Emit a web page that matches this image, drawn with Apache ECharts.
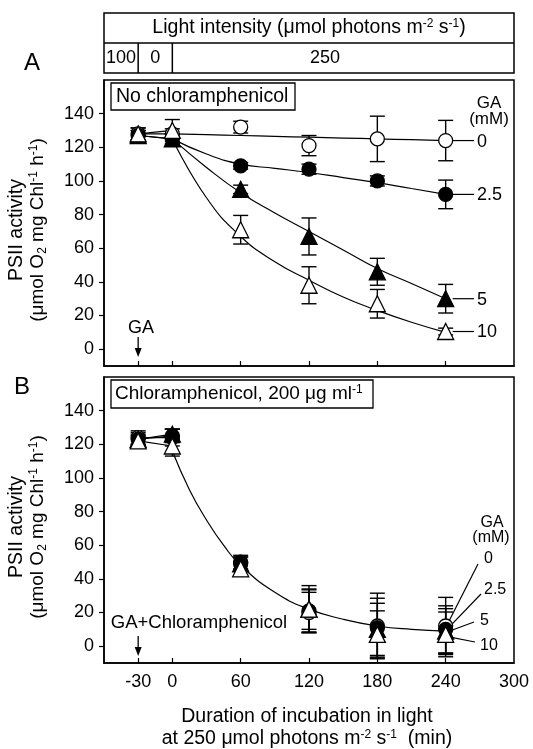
<!DOCTYPE html>
<html>
<head>
<meta charset="utf-8">
<script src="https://cdn.jsdelivr.net/npm/echarts@6/dist/echarts.min.js"></script>
<style>
  html, body { margin: 0; padding: 0; background: #fff; }
  #chart { width: 533px; height: 749px; }
</style>
</head>
<body>
<div id="chart"></div>
<script>
// sampling times (min) and axis ticks
const times = [-30, 0, 60, 120, 180, 240];
const xTickValues = [-30, 0, 60, 120, 180, 240];
const xLabelValues = [-30, 0, 60, 120, 180, 240, 300];
const yTickValues = [0, 20, 40, 60, 80, 100, 120, 140];
const gaLabels = ['0', '2.5', '5', '10'];

// A: no chloramphenicol, mean and error for GA 0 / 2.5 / 5 / 10 mM
const aMean0 = [128, 128, 132, 121, 125, 124];
const aErr0 = [3.5, 3, 3.5, 6, 13.5, 12];
const aMean25 = [127, 125, 109, 107, 100, 92];
const aErr25 = [3, 3, 2, 3, 3, 8.5];
const aMean5 = [127, 125, 95, 67, 46, 30];
const aErr5 = [3, 3, 2.5, 11, 8, 8.5];
const aMean10 = [128, 130, 71, 38, 27, 10.5];
const aErr10 = [3.5, 6.5, 8.5, 11, 8.5, 2];

// A: fitted curves
const aFitX = [0, 30, 60, 90, 120, 150, 180, 210, 240];
const aFit0 = [128, 127.5, 127, 126.5, 126, 125.5, 125, 124.5, 124];
const aFit25 = [125, 116, 110, 107.5, 105, 102, 99, 95.5, 92];
const aFit5 = [125, 108, 93, 81, 70, 59, 48, 39, 30];
const aFit10 = [125, 90, 67, 52, 41, 31, 23, 16, 10];

// B: chloramphenicol 200 ug/ml
const bMean0 = [124, 124, 49, 20, 12, 12];
const bErr0 = [4, 5, 4, 12, 19.5, 17];
const bMean25 = [123, 125, 50, 21, 11, 10];
const bErr25 = [4, 4, 4, 12.5, 17.5, 14];
const bMean5 = [123, 126, 49, 22, 10, 9];
const bErr5 = [3, 3, 4, 14, 15.5, 13.3];
const bMean10 = [122, 119, 46, 22, 7, 7];
const bErr10 = [3, 6, 4, 12, 14, 13.3];

// B: one fitted curve for all concentrations
const bFitX = [0, 15, 30, 45, 60, 90, 120, 150, 180, 210, 240];
const bFit = [116, 93, 75, 60, 48, 32, 22, 16, 12, 10, 9];

const FONT = '"Liberation Sans", Arial, sans-serif';
const INK = '#000';

function xAxis(gi, labels) {
  return {
    type: 'value', gridIndex: gi, min: -60, max: 300,
    axisLine: { show: true, onZero: false, lineStyle: { color: INK, width: 1.5 } },
    axisTick: { show: true, inside: true, length: 5, customValues: xTickValues, lineStyle: { color: INK, width: 1.2 } },
    axisLabel: { show: labels, customValues: xLabelValues, color: INK, fontSize: 18, fontFamily: FONT, margin: 10 },
    splitLine: { show: false }
  };
}

function yAxis(gi) {
  return {
    type: 'value', gridIndex: gi, min: -10, max: 160,
    axisLine: { show: true, onZero: false, lineStyle: { color: INK, width: 1.5 } },
    axisTick: { show: true, inside: false, length: 5, customValues: yTickValues, lineStyle: { color: INK, width: 1.2 } },
    axisLabel: { customValues: yTickValues, color: INK, fontSize: 18, fontFamily: FONT, margin: 10 },
    splitLine: { show: false }
  };
}

function lineSeries(gi, xs, ys, smooth) {
  return {
    type: 'line', xAxisIndex: gi, yAxisIndex: gi,
    data: xs.map((x, i) => [x, ys[i]]),
    smooth: smooth, showSymbol: false, silent: true,
    lineStyle: { color: INK, width: 1.2 }, z: 2
  };
}

function errorSeries(gi, means, errs) {
  return {
    type: 'custom', xAxisIndex: gi, yAxisIndex: gi, z: 3, silent: true,
    data: times.map((t, i) => [t, means[i] - errs[i], means[i] + errs[i]]),
    encode: { x: 0, y: [1, 2] },
    renderItem: (params, api) => {
      const lo = api.coord([api.value(0), api.value(1)]);
      const hi = api.coord([api.value(0), api.value(2)]);
      const w = 7.5;
      const st = { stroke: INK, lineWidth: 1.4 };
      return {
        type: 'group',
        children: [
          { type: 'line', shape: { x1: lo[0], y1: lo[1], x2: hi[0], y2: hi[1] }, style: st },
          { type: 'line', shape: { x1: lo[0] - w, y1: lo[1], x2: lo[0] + w, y2: lo[1] }, style: st },
          { type: 'line', shape: { x1: hi[0] - w, y1: hi[1], x2: hi[0] + w, y2: hi[1] }, style: st }
        ]
      };
    }
  };
}

const kinds = [
  { symbol: 'circle', size: 14, fill: '#fff' },
  { symbol: 'circle', size: 14, fill: INK },
  { symbol: 'triangle', size: 16, fill: INK },
  { symbol: 'triangle', size: 16, fill: '#fff' }
];

function markSeries(gi, means, k, z) {
  return {
    type: 'scatter', xAxisIndex: gi, yAxisIndex: gi, z: z, silent: true,
    data: times.map((t, i) => [t, means[i]]),
    symbol: kinds[k].symbol, symbolSize: kinds[k].size,
    itemStyle: { color: kinds[k].fill, borderColor: INK, borderWidth: 1.3, opacity: 1 }
  };
}

const aMeans = [aMean0, aMean25, aMean5, aMean10];
const aErrs = [aErr0, aErr25, aErr5, aErr10];
const aFits = [aFit0, aFit25, aFit5, aFit10];
const bMeans = [bMean0, bMean25, bMean5, bMean10];
const bErrs = [bErr0, bErr25, bErr5, bErr10];

const series = [];
aMeans.forEach((m, k) => {
  series.push(lineSeries(0, [times[0], times[1]], [m[0], m[1]], false));
  series.push(lineSeries(0, aFitX, aFits[k], true));
  series.push(errorSeries(0, m, aErrs[k]));
});
aMeans.forEach((m, k) => series.push(markSeries(0, m, k, 5 + k)));
bMeans.forEach((m, k) => {
  series.push(lineSeries(1, [times[0], times[1]], [m[0], m[1]], false));
  series.push(errorSeries(1, m, bErrs[k]));
});
series.push(lineSeries(1, bFitX, bFit, true));
bMeans.forEach((m, k) => series.push(markSeries(1, m, k, 5 + k)));

const chart = echarts.init(document.getElementById('chart'));
chart.setOption({
  backgroundColor: '#fff',
  animation: false,
  grid: [
    { left: 104, width: 410, top: 80, height: 286, show: true, borderColor: INK, borderWidth: 1.5 },
    { left: 104, width: 410, top: 377, height: 286, show: true, borderColor: INK, borderWidth: 1.5 }
  ],
  xAxis: [xAxis(0, false), xAxis(1, true)],
  yAxis: [yAxis(0), yAxis(1)],
  series: series
});

// annotations placed through the axes
const P = (gi, x, y) => chart.convertToPixel({ gridIndex: gi }, [x, y]);
const txt = (x, y, text, size, align, extra) => Object.assign({
  type: 'text', x: x, y: y, silent: true,
  style: {
    text: text, fontSize: size, fontFamily: FONT, fill: INK,
    align: align || 'center', verticalAlign: 'middle',
    rich: {
      sup: { fontSize: Math.round(size * 0.62), fontFamily: FONT, verticalAlign: 'top', lineHeight: 12 },
      sub: { fontSize: Math.round(size * 0.62), fontFamily: FONT, verticalAlign: 'bottom', lineHeight: 12 }
    },
    lineHeight: 21
  }
}, extra || {});
const seg = (x1, y1, x2, y2, w) => ({
  type: 'line', silent: true, shape: { x1, y1, x2, y2 }, style: { stroke: INK, lineWidth: w || 1.2 }
});
const box = (x, y, w, h) => ({
  type: 'rect', silent: true, shape: { x, y, width: w, height: h }, style: { fill: '#fff', stroke: INK, lineWidth: 1.3 }
});
const arrow = (x, y1, y2) => [
  seg(x, y1, x, y2 - 6, 1.3),
  { type: 'polygon', silent: true, shape: { points: [[x - 3.5, y2 - 9], [x + 3.5, y2 - 9], [x, y2]] }, style: { fill: INK } }
];

const L = P(0, -60, 0)[0], R = P(0, 300, 0)[0];
const xm30 = P(0, -30, 0)[0], x0 = P(0, 0, 0)[0];
const g = [];

// light intensity strip
g.push({ type: 'rect', silent: true, shape: { x: L, y: 13, width: R - L, height: 60 }, style: { fill: 'none', stroke: INK, lineWidth: 1.5 } });
g.push(seg(L, 43, R, 43, 1.5), seg(xm30, 43, xm30, 73, 1.5), seg(x0, 43, x0, 73, 1.5));
g.push(txt((L + R) / 2, 28, 'Light intensity (μmol photons m{sup|-2} s{sup|-1})', 19.5));
g.push(txt((L + xm30) / 2, 58, '100', 18), txt((xm30 + x0) / 2, 58, '0', 18), txt(325, 58, '250', 18));

// panel letters and titles
g.push(txt(32, 63, 'A', 24), txt(22, 387, 'B', 24));
g.push(box(111, 83, 184, 27), txt(116, 97, 'No chloramphenicol', 19.5, 'left'));
g.push(box(111, 380, 262, 28), txt(115, 394, 'Chloramphenicol, 200 μg ml{sup|-1}', 19, 'left'));

// y axis names
[230, 527].forEach(cy => {
  g.push(txt(17, cy, 'PSII activity', 19.5, 'center', { rotation: Math.PI / 2 }));
  g.push(txt(38, cy, '(μmol O{sub|2} mg Chl{sup|-1} h{sup|-1})', 19, 'center', { rotation: Math.PI / 2 }));
});

// x axis name
g.push(txt(307, 717, 'Duration of incubation in light', 19.5));
g.push(txt(307, 739, 'at 250 μmol photons m{sup|-2} s{sup|-1}  (min)', 19.5));

// panel A: GA addition and concentration labels
g.push(txt(141, 328, 'GA', 18));
g.push(...arrow(xm30, 337, 357));
g.push(txt(489, 103, 'GA', 17), txt(489, 119, '(mM)', 17));
aMeans.forEach((m, k) => {
  const p = P(0, 240, m[5]);
  g.push(seg(p[0] + 7, p[1], 474, p[1]));
  g.push(txt(477, p[1] + 1, gaLabels[k], 18, 'left'));
});

// panel B: GA + chloramphenicol addition and labels
g.push(txt(199, 623, 'GA+Chloramphenicol', 18.5));
g.push(...arrow(xm30, 636, 656));
g.push(txt(492, 523, 'GA', 16), txt(491, 538, '(mM)', 16));
const bLab = [[484, 559, 478, 564], [484, 590, 481, 594], [480, 621, 474, 622], [480, 646, 475, 642]];
bMeans.forEach((m, k) => {
  const p = P(1, 240, m[5]);
  const q = bLab[k];
  g.push(seg(q[2], q[3], p[0] + 2, p[1] + (k - 1.5) * 1.5));
  g.push(txt(q[0], q[1], gaLabels[k], 16, 'left'));
});

chart.setOption({ graphic: g });
</script>
</body>
</html>
